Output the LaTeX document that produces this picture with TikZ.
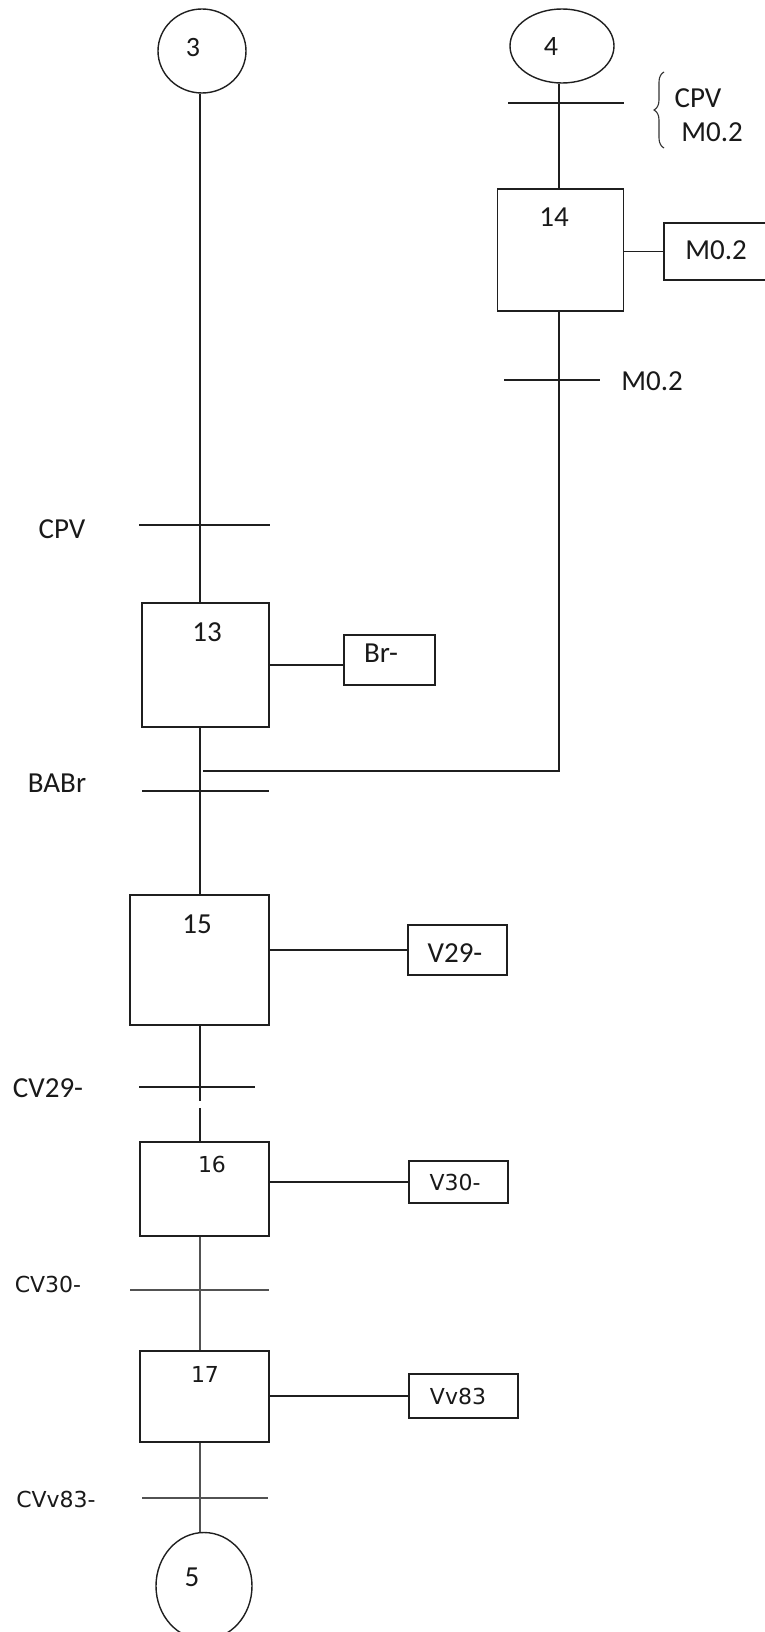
\documentclass[tikz,border=0pt]{standalone}
\usepackage{fontspec}
\setmainfont{Carlito}
\newfontfamily\dv{DejaVu Sans}
\usetikzlibrary{shapes.geometric,decorations.pathreplacing}
\tikzset{
  x=1pt,y=-1pt,
  ln/.style={line width=1.7pt,draw=black!88},
  gln/.style={line width=2.6pt,draw=black!68},
  stepbox/.style={draw=black!88,line width=1.7pt,rectangle,inner sep=0pt,fill=white},
  actbox/.style={draw=black!88,line width=1.7pt,rectangle,inner sep=0pt,fill=white},
  ring/.style={draw=black!88,line width=1.4pt,ellipse,inner sep=0pt},
  cal/.style={font=\fontsize{29}{34}\selectfont,inner sep=0pt,text=black!90},
  calsm/.style={font=\fontsize{28}{32}\selectfont,inner sep=0pt,text=black!90},
  dvt/.style={font=\dv\fontsize{22}{26}\selectfont,inner sep=0pt,text=black!90},
}
\begin{document}
\begin{tikzpicture}
\useasboundingbox[fill=white] (0,0) rectangle (765,1632);
% column reference coordinates
\coordinate (colL) at (200,0);
\coordinate (colR) at (559,0);

% initial / final circles
\node[ring,minimum width=88pt,minimum height=84pt] (c3) at (202,51) {};
\node[ring,minimum width=104pt,minimum height=74pt] (c4) at (562,46) {};
\node[ring,minimum width=96pt,minimum height=107pt] (c5) at (204,1586) {};
\node[calsm] (n3) at (193,48) {3};
\node[calsm] (n4) at (551,47) {4};
\node[cal] (n5) at (192,1577) {5};

% step boxes
\node[stepbox,minimum width=127pt,minimum height=124pt] (b13) at (205.5,665) {};
\node[stepbox,minimum width=126pt,minimum height=122pt] (b14) at (560.5,250) {};
\node[stepbox,minimum width=139pt,minimum height=130pt] (b15) at (199.5,960) {};
\node[stepbox,minimum width=129pt,minimum height=94pt] (b16) at (204.5,1189) {};
\node[stepbox,minimum width=129pt,minimum height=91pt] (b17) at (204.5,1396.5) {};
\node[cal] (s13) at (207,632) {13};
\node[cal] (s14) at (554,217) {14};
\node[cal] (s15) at (197,924) {15};
\node[dvt] (s16) at (212,1164) {16};
\node[dvt] (s17) at (205,1374) {17};

% action boxes
\node[actbox,minimum width=91pt,minimum height=50pt] (a13) at (389.5,660) {};
\node[actbox,minimum width=106pt,minimum height=57pt] (a14) at (717,251.5) {};
\node[actbox,minimum width=99pt,minimum height=50pt] (a15) at (457.5,950) {};
\node[actbox,minimum width=99pt,minimum height=42pt] (a16) at (458.5,1182) {};
\node[actbox,minimum width=109pt,minimum height=44pt] (a17) at (463.5,1396) {};
\node[cal] (ta13) at (381,653) {Br-};
\node[cal] (ta14) at (716,250) {M0.2};
\node[cal] (ta15) at (455,953) {V29-};
\node[dvt] (ta16) at (455,1182) {V30-};
\node[dvt] (ta17) at (458,1396) {Vv83};

% action connectors
\draw[ln] (b13.east) -- (b13.east -| a13.west);
\draw[ln] (b14.east |- a14.west) -- (a14.west);
\draw[ln] (b15.east |- a15.west) -- (a15.west);
\draw[ln] (b16.east |- a16.west) -- (a16.west);
\draw[ln] (b17.east |- a17.west) -- (a17.west);

% left main line
\coordinate (gapA) at (200,1101);
\coordinate (gapB) at (200,1108);
\draw[ln] (c3.south -| colL) -- (b13.north -| colL);
\draw[ln] (b13.south -| colL) -- (b15.north -| colL);
\draw[ln] (b15.south -| colL) -- (gapA);
\draw[ln] (gapB) -- (b16.north -| colL);
\draw[gln] (b16.south -| colL) -- (b17.north -| colL);
\draw[gln] (b17.south -| colL) -- (c5.north -| colL);

% right line and merge
\coordinate (mergeR) at (559,771);
\coordinate (mergeL) at (203,771);
\draw[ln] (c4.south -| colR) -- (b14.north -| colR);
\draw[ln] (b14.south -| colR) -- (mergeR) -- (mergeL);

% transitions (bars)
\coordinate (tA1) at (139,525); \coordinate (tA2) at (270,525);
\coordinate (tB1) at (142,791); \coordinate (tB2) at (269,791);
\coordinate (tC1) at (139,1087); \coordinate (tC2) at (255,1087);
\coordinate (tD1) at (130,1290); \coordinate (tD2) at (269,1290);
\coordinate (tE1) at (142,1498); \coordinate (tE2) at (268,1498);
\coordinate (tF1) at (508,103); \coordinate (tF2) at (624,103);
\coordinate (tG1) at (504,380); \coordinate (tG2) at (600,380);
\draw[ln] (tA1) -- (tA2);
\draw[ln] (tB1) -- (tB2);
\draw[ln] (tC1) -- (tC2);
\draw[gln] (tD1) -- (tD2);
\draw[gln] (tE1) -- (tE2);
\draw[ln] (tF1) -- (tF2);
\draw[ln] (tG1) -- (tG2);

% transition labels
\node[cal] (lA) at (62,529) {CPV};
\node[cal] (lB) at (57,783) {BABr};
\node[cal] (lC) at (48,1088) {CV29-};
\node[dvt] (lD) at (48,1284) {CV30-};
\node[dvt] (lE) at (56,1499) {CVv83-};
\node[cal] (lG) at (652,381) {M0.2};
\coordinate (brB) at (664,148);
\coordinate (brT) at (664,72);
\draw[line width=1.1pt,draw=black!80,decorate,decoration={brace,amplitude=10pt}] (brB) -- (brT);
\node[cal] (lF1) at (698,98) {CPV};
\node[cal] (lF2) at (712,132) {M0.2};
\end{tikzpicture}
\end{document}
